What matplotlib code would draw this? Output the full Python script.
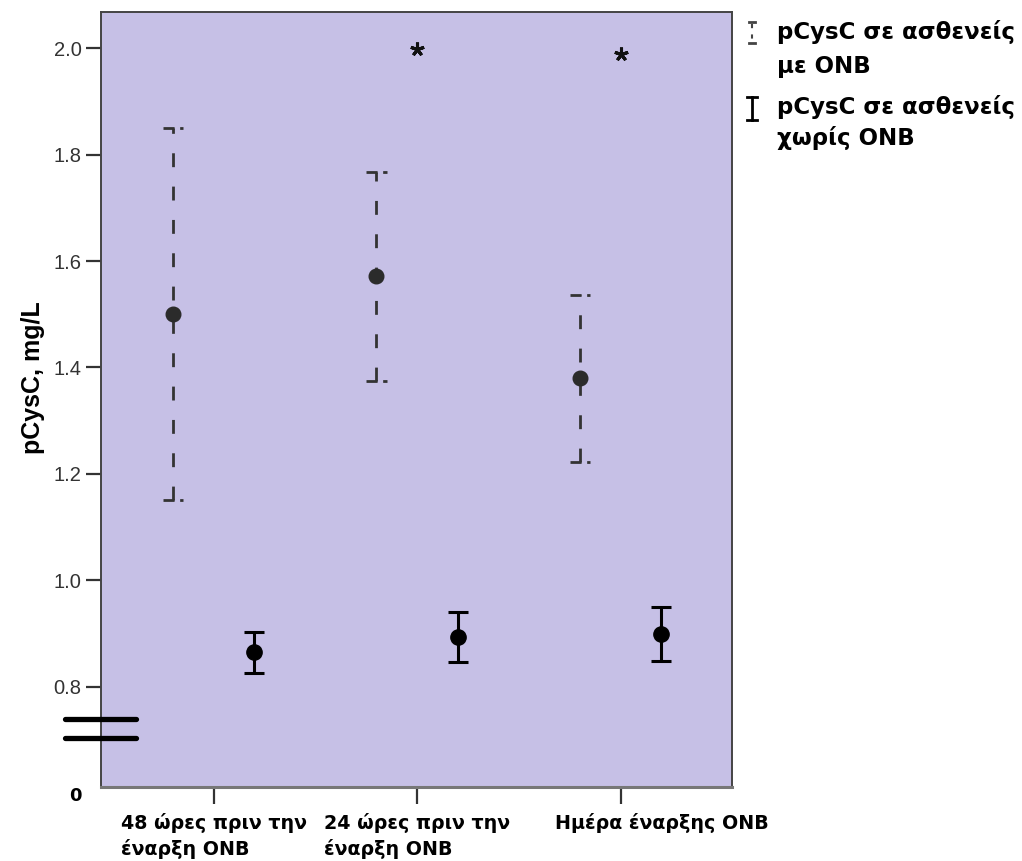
import matplotlib
matplotlib.use("Agg")
import matplotlib.pyplot as plt
from matplotlib.lines import Line2D
from matplotlib.transforms import ScaledTranslation

# categories on the x axis
categories = ["48 ώρες πριν την\nέναρξη ONB",
              "24 ώρες πριν την\nέναρξη ONB",
              "Ημέρα έναρξης ONB"]

# pCysC in patients with ONB (mean and 95% CI)
onb_mean = [1.501, 1.572, 1.380]
onb_low = [1.151, 1.375, 1.222]
onb_high = [1.850, 1.768, 1.537]

# pCysC in patients without ONB
no_mean = [0.865, 0.894, 0.899]
no_low = [0.826, 0.847, 0.849]
no_high = [0.903, 0.940, 0.949]

# significance stars
star_idx = [1, 2]
star_val = [1.998, 1.990]

yticks = [0.8, 1.0, 1.2, 1.4, 1.6, 1.8, 2.0]

bg = "#c6c0e6"
offset = 0.2
cap = 0.05

fig = plt.figure(figsize=(10.22, 8.61), dpi=100)
ax = fig.add_axes([0.0988, 0.0863, 0.6174, 0.8997])
ax.set_facecolor(bg)

x = list(range(len(categories)))

# with ONB: dashed grey bars
for i in x:
    xi = i - offset
    ax.vlines(xi, onb_low[i], onb_high[i], colors="#333333", linewidth=2,
              linestyles=(0, (5, 7)))
    ax.hlines([onb_low[i], onb_high[i]], xi - cap, xi + cap, colors="#333333",
              linewidth=2, linestyles=(0, (4, 2)))
ax.plot([i - offset for i in x], onb_mean, "o", color="#2b2b2b", markersize=10.5,
        linestyle="none", zorder=3)

# without ONB: solid black bars
ax.errorbar([i + offset for i in x], no_mean,
            yerr=[[m - l for m, l in zip(no_mean, no_low)],
                  [h - m for m, h in zip(no_mean, no_high)]],
            fmt="o", color="black", markersize=11, elinewidth=2.2,
            capsize=7.5, capthick=2.2, zorder=3)

# stars
ax.plot(star_idx, star_val, linestyle="none", marker=(5, 2, 0), markersize=10,
        markeredgewidth=2.2, color="#111111")

ax.set_xlim(-0.554, 2.547)
ax.set_ylim(0.612, 2.068)
ax.set_yticks(yticks)
ax.set_yticklabels([f"{v:.1f}" for v in yticks], fontsize=14.5,
                   family="Liberation Sans", color="#333333")
ax.tick_params(axis="y", length=11, width=1.6, color="#333333", pad=3)

ax.set_xticks(x)
ax.set_xticklabels(categories, fontsize=13.7, fontweight="bold",
                   family="DejaVu Sans", multialignment="left", linespacing=1.4)
ax.tick_params(axis="x", length=12, width=1.6, color="#333333", pad=7)
lbl = ax.get_xticklabels()[2]
lbl.set_transform(lbl.get_transform() + ScaledTranslation(0.41, 0, fig.dpi_scale_trans))

for s in ["top", "left", "right"]:
    ax.spines[s].set_color("#444444")
    ax.spines[s].set_linewidth(1.4)
ax.spines["bottom"].set_color("#777777")
ax.spines["bottom"].set_linewidth(2.2)

ax.set_ylabel("pCysC, mg/L", fontsize=18, fontweight="bold",
              family="Liberation Sans")
ax.yaxis.set_label_coords(-0.0885, 0.5276)

# axis break marks
yt = ax.get_yaxis_transform()
for yb in [0.739, 0.703]:
    ax.plot([-0.057, 0.055], [yb, yb], color="black", linewidth=3.8,
            solid_capstyle="round", transform=yt, clip_on=False, zorder=5)
ax.text(-0.041, 0.612, "0", transform=yt, ha="center", va="top",
        fontsize=13, fontweight="bold", family="DejaVu Sans")

# legend
W, H = 1022, 861


def fx(px):
    return px / W


def fy(py):
    return 1 - py / H


lx = 752
fig.add_artist(Line2D([fx(lx), fx(lx)], [fy(24), fy(42)], color="#444444",
                      linewidth=1.5, linestyle=(0, (2, 3))))
fig.add_artist(Line2D([fx(lx - 3), fx(lx + 3)], [fy(22), fy(22)], color="#444444",
                      linewidth=2))
fig.add_artist(Line2D([fx(lx - 3), fx(lx + 3)], [fy(43), fy(43)], color="#444444",
                      linewidth=2))
fig.add_artist(Line2D([fx(lx), fx(lx)], [fy(97), fy(120)], color="black",
                      linewidth=2))
fig.add_artist(Line2D([fx(lx - 5), fx(lx + 5)], [fy(97), fy(97)], color="black",
                      linewidth=2))
fig.add_artist(Line2D([fx(lx - 5), fx(lx + 5)], [fy(120), fy(120)], color="black",
                      linewidth=2))

leg_kw = dict(fontsize=16.5, fontweight="bold", family="DejaVu Sans",
              ha="left", va="center")
fig.text(fx(777), fy(32), "pCysC σε ασθενείς", **leg_kw)
fig.text(fx(777), fy(66), "με ONB", **leg_kw)
fig.text(fx(777), fy(107), "pCysC σε ασθενείς", **leg_kw)
fig.text(fx(777), fy(138), "χωρίς ONB", **leg_kw)

fig.savefig("out.png", dpi=100)
